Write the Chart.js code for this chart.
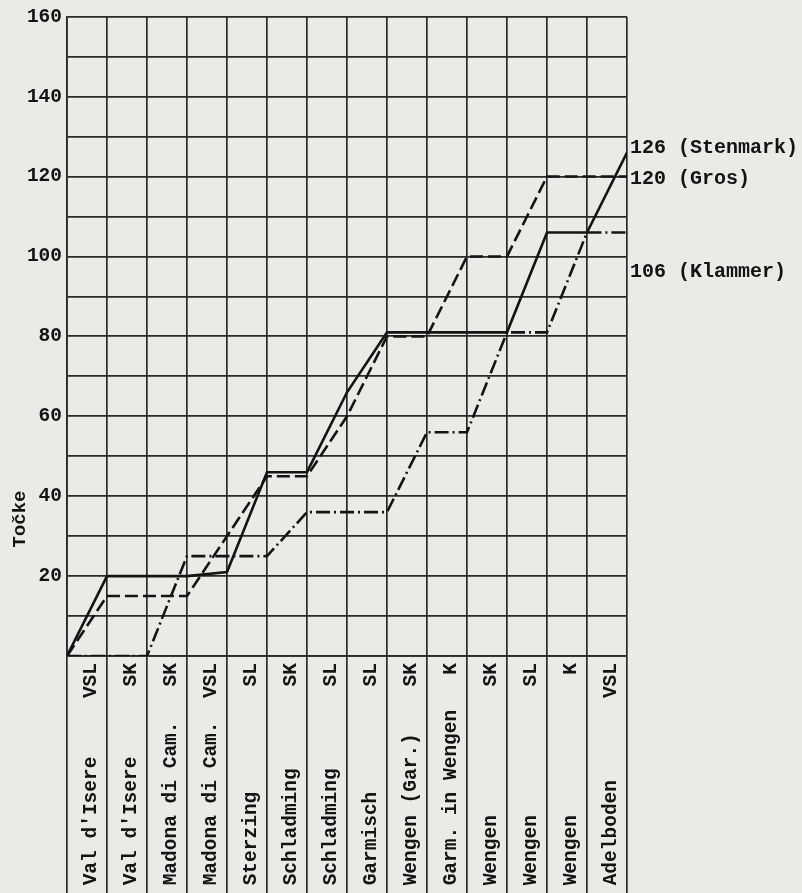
<!DOCTYPE html>
<html lang="sl">
<head>
<meta charset="utf-8">
<title>Točke</title>
<script src="https://cdn.jsdelivr.net/npm/chart.js@4.4.1/dist/chart.umd.min.js"></script>
<style>
  html, body { margin: 0; padding: 0; background: #ebeae7; }
  #wrap { position: relative; width: 802px; height: 893px; }
</style>
</head>
<body>
<div id="wrap"><canvas id="chart"></canvas></div>
<script>
// Race columns (place + discipline), left to right
const places = ["Val d'Isere", "Val d'Isere", 'Madona di Cam.', 'Madona di Cam.', 'Sterzing',
  'Schladming', 'Schladming', 'Garmisch', 'Wengen (Gar.)', 'Garm. in Wengen',
  'Wengen', 'Wengen', 'Wengen', 'Adelboden'];
const disciplines = ['VSL', 'SK', 'SK', 'VSL', 'SL', 'SK', 'SL', 'SL', 'SK', 'K', 'SK', 'SL', 'K', 'VSL'];

// Cumulative points after each race (first value = start of season)
const stenmark = [0, 20, 20, 20, 21, 46, 46, 66, 81, 81, 81, 81, 106, 106, 126];
const gros     = [0, 15, 15, 15, 30, 45, 45, 60, 80, 80, 100, 100, 120, 120, 120];
const klammer  = [0, 0, 0, 25, 25, 25, 36, 36, 36, 56, 56, 81, 81, 106, 106];

const seriesNames = ['Stenmark', 'Gros', 'Klammer'];

// y axis
const yMin = 0;
const yMax = 160;
const yStep = 10;
const yLabelStep = 20;

const INK = '#141414';
const GRID = '#2a2a2a';
const FONT = '"Liberation Mono", "DejaVu Sans Mono", monospace';

// Pad label to fixed typewriter width: place at the bottom, discipline near the axis
const LABEL_WIDTH = 19;
const xLabels = places.map((p, i) => {
  const d = disciplines[i];
  return p + ' '.repeat(Math.max(1, LABEL_WIDTH - p.length - d.length)) + d;
});

const toPoints = arr => arr.map((v, i) => ({ x: i, y: v }));

// End-of-line labels and axis title
const annotate = {
  id: 'annotate',
  afterDraw(chart) {
    const { ctx, chartArea, scales } = chart;
    const shifts = [-5, 2, 40];
    ctx.save();
    ctx.fillStyle = INK;
    ctx.font = 'bold 20px ' + FONT;
    ctx.textBaseline = 'middle';
    ctx.textAlign = 'left';
    chart.data.datasets.forEach((ds, i) => {
      const last = ds.data[ds.data.length - 1].y;
      const y = scales.y.getPixelForValue(last) + shifts[i];
      ctx.fillText(`${last} (${ds.label})`, chartArea.right + 3, y);
    });

    ctx.font = 'bold 19px ' + FONT;
    ctx.translate(20, 519);
    ctx.rotate(-Math.PI / 2);
    ctx.textAlign = 'center';
    ctx.fillText('Točke', 0, 0);
    ctx.restore();
  }
};

Chart.defaults.font.family = FONT;
Chart.defaults.font.weight = 'bold';
Chart.defaults.font.size = 19.5;
Chart.defaults.color = INK;

const lineStyle = {
  borderColor: INK,
  borderWidth: 2.6,
  pointRadius: 0,
  fill: false,
  tension: 0
};

new Chart(document.getElementById('chart'), {
  type: 'line',
  data: {
    datasets: [
      { ...lineStyle, label: seriesNames[0], data: toPoints(stenmark) },
      { ...lineStyle, label: seriesNames[1], data: toPoints(gros), borderDash: [13, 5] },
      { ...lineStyle, label: seriesNames[2], data: toPoints(klammer), borderDash: [14, 4, 2, 4] }
    ]
  },
  options: {
    responsive: true,
    maintainAspectRatio: false,
    animation: false,
    layout: { padding: { top: 16, right: 175, bottom: 0, left: 0 } },
    plugins: {
      legend: { display: false },
      tooltip: { enabled: false },
      title: { display: false }
    },
    scales: {
      x: {
        type: 'linear',
        min: 0,
        max: places.length,
        afterBuildTicks: axis => {
          axis.ticks = places.map((p, i) => ({ value: i + 0.5 }));
        },
        afterFit: axis => { axis.height = 237; },
        ticks: {
          autoSkip: false,
          minRotation: 90,
          maxRotation: 90,
          padding: -230,
          labelOffset: 4,
          color: INK,
          callback: (value, index) => xLabels[index]
        },
        grid: {
          offset: true,
          color: GRID,
          lineWidth: 1.7,
          drawTicks: true,
          tickLength: 237,
          tickColor: GRID,
          tickWidth: 1.7
        },
        border: { color: GRID, width: 1.7 }
      },
      y: {
        min: yMin,
        max: yMax,
        afterFit: axis => { axis.width = 67; },
        ticks: {
          stepSize: yStep,
          padding: 5,
          color: INK,
          callback: v => (v > 0 && v % yLabelStep === 0 ? String(v) : '')
        },
        grid: {
          color: GRID,
          lineWidth: 1.7,
          drawTicks: false
        },
        border: { color: GRID, width: 1.7 }
      }
    }
  },
  plugins: [annotate]
});
</script>
</body>
</html>
